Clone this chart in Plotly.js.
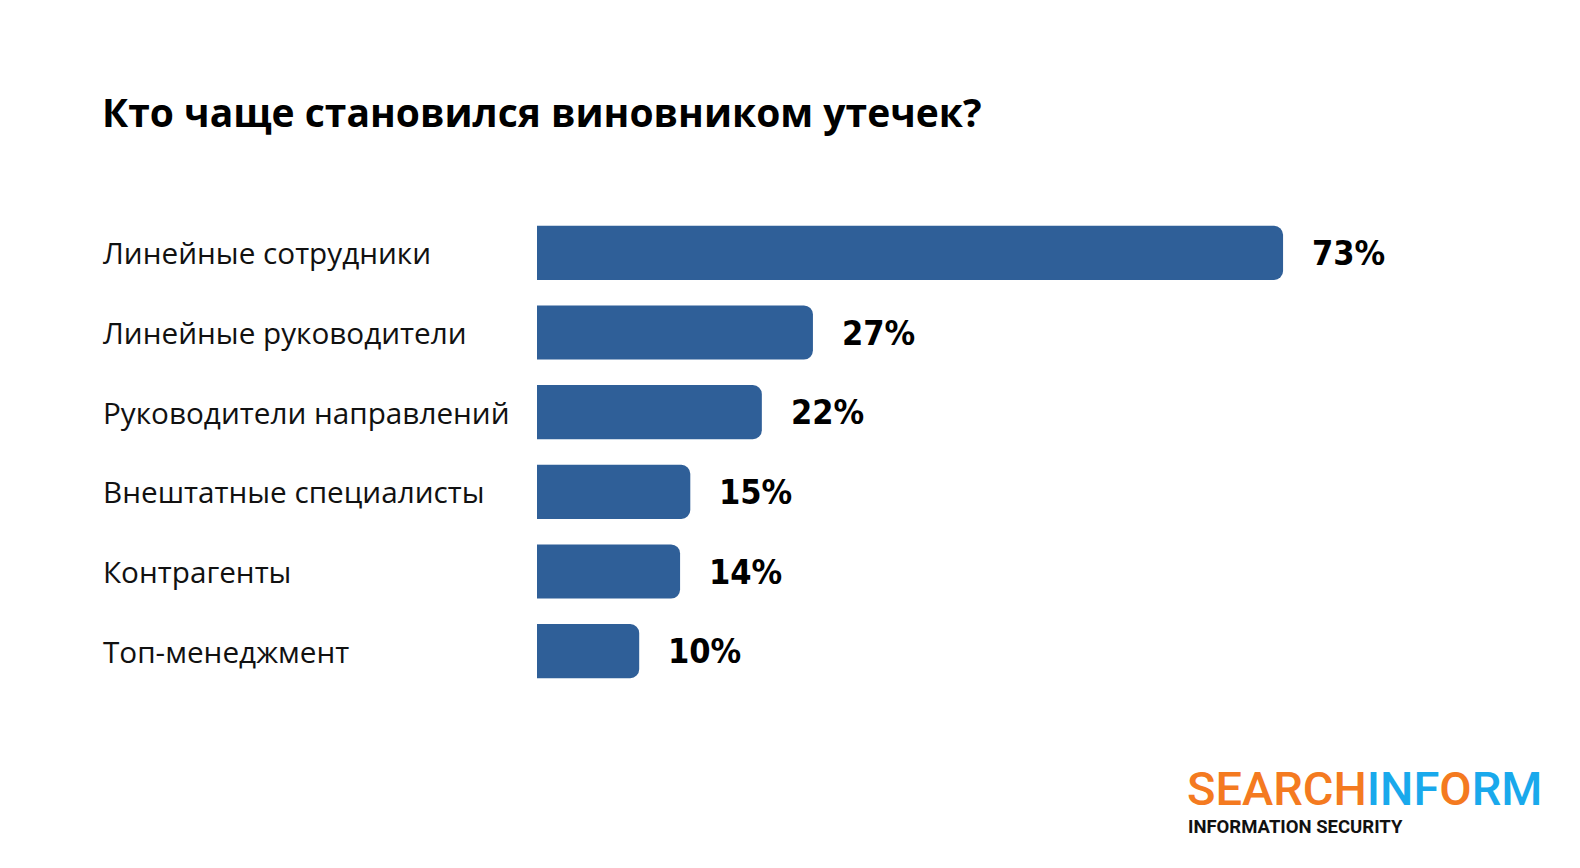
<!DOCTYPE html>
<html>
<head>
<meta charset="utf-8">
<script src="https://cdn.plot.ly/plotly-3.0.1.min.js"></script>
<style>
  html, body { margin: 0; padding: 0; background: #fff; }
  #chart { width: 1580px; height: 868px; }
</style>
</head>
<body>
<div id="chart"></div>
<script>
// data
const categories = [
  "Линейные сотрудники",
  "Линейные руководители",
  "Руководители направлений",
  "Внештатные специалисты",
  "Контрагенты",
  "Топ-менеджмент"
];
const shares = [73, 27, 22, 15, 14, 10];

const barColor = "#2f5f98";

const barTrace = {
  type: "bar",
  orientation: "h",
  x: shares,
  y: categories,
  marker: { color: barColor, cornerradius: 9 },
  width: 0.68,
  hoverinfo: "skip"
};

// category names, left aligned at the page edge
const labelNotes = categories.map(c => ({
  xref: "paper", yref: "y",
  x: -0.427, y: c,
  xanchor: "left", yanchor: "middle",
  text: c,
  showarrow: false,
  font: { family: "Open Sans", size: 29.7, color: "#111" }
}));

// value labels to the right of each bar (condensed bold)
const valueNotes = shares.map((v, i) => ({
  xref: "x", yref: "y",
  x: v, y: categories[i],
  xanchor: "left", yanchor: "middle",
  xshift: 27,
  text: v + "%",
  showarrow: false,
  font: { family: "DejaVu Sans Condensed, Liberation Sans Narrow, Arial Narrow, sans-serif",
          size: 34, color: "#000", weight: 700 }
}));

// logo
const logoNotes = [
  {
    xref: "paper", yref: "paper", x: 0.634, y: -0.205,
    xanchor: "left", yanchor: "middle", showarrow: false,
    text: "<span style='color:#f47a20'>SEARCH</span><span style='color:#19a9ec'>INF</span>" +
          "<span style='color:#f47a20'>O</span><span style='color:#19a9ec'>RM</span>",
    font: { family: "Roboto", size: 47, weight: 500 }
  },
  {
    xref: "paper", yref: "paper", x: 0.635, y: -0.284,
    xanchor: "left", yanchor: "middle", showarrow: false,
    text: "INFORMATION SECURITY",
    font: { family: "Roboto", size: 18.5, weight: 700, color: "#111" }
  }
];

const layout = {
  width: 1580,
  height: 868,
  paper_bgcolor: "#fff",
  plot_bgcolor: "#fff",
  showlegend: false,
  margin: { l: 537, r: 21, t: 213, b: 177 },
  title: {
    text: "Кто чаще становился виновником утечек?",
    font: { family: "Open Sans", size: 39, weight: 700, color: "#000" },
    xref: "container", yref: "container",
    x: 102 / 1580, xanchor: "left",
    y: 1 - 113 / 868, yanchor: "middle"
  },
  xaxis: {
    range: [0, 100],
    visible: false,
    fixedrange: true
  },
  yaxis: {
    autorange: "reversed",
    showticklabels: false,
    showgrid: false,
    zeroline: false,
    showline: false,
    ticks: "",
    fixedrange: true
  },
  annotations: labelNotes.concat(valueNotes, logoNotes)
};

Plotly.newPlot("chart", [barTrace], layout, { displayModeBar: false, staticPlot: true });
</script>
</body>
</html>
